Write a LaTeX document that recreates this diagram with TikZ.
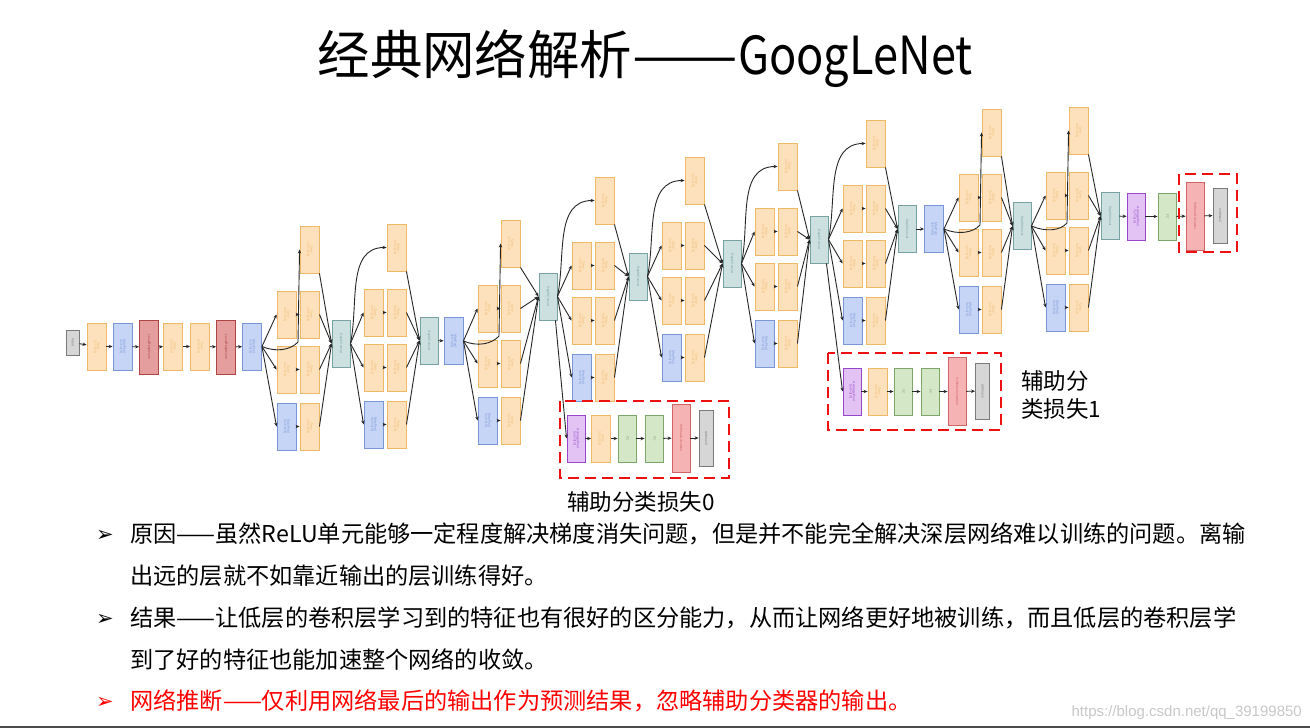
\documentclass[tikz,border=0pt]{standalone}
\usepackage{fontspec}
\usepackage{graphicx}
\setmainfont{Noto Sans CJK SC}
\newfontfamily\boxfont{Liberation Sans}
\newfontfamily\symfont{DejaVu Sans}
\newfontfamily\wmfont{Liberation Sans}
\usetikzlibrary{arrows.meta,calc}
\definecolor{yfill}{HTML}{FCE1BC}
\definecolor{ydraw}{HTML}{EFB866}
\definecolor{bfill}{HTML}{C6D5F5}
\definecolor{bdraw}{HTML}{7896D8}
\definecolor{rfill}{HTML}{E59E9E}
\definecolor{rdraw}{HTML}{B04444}
\definecolor{tfill}{HTML}{CDE0E0}
\definecolor{tdraw}{HTML}{78A2A2}
\definecolor{gfill}{HTML}{D6D6D6}
\definecolor{gdraw}{HTML}{7A7A7A}
\definecolor{pfill}{HTML}{E2C3F3}
\definecolor{pdraw}{HTML}{9847CC}
\definecolor{fcfill}{HTML}{D4E7C6}
\definecolor{fcdraw}{HTML}{7EA66B}
\definecolor{sfill}{HTML}{F5B3B3}
\definecolor{sdraw}{HTML}{D06464}
\definecolor{dred}{HTML}{EE1111}
\definecolor{wmgray}{HTML}{C8C8C8}
\newcommand\vt[1]{\rotatebox{-90}{\renewcommand\arraystretch{0.75}\begin{tabular}{@{}c@{}}#1\end{tabular}}}
\tikzset{
  lay/.style={draw, line width=0.9pt, inner sep=0pt, minimum width=19pt, minimum height=47pt,
    font=\boxfont\fontsize{3.4}{4}\selectfont},
  conv/.style={lay, fill=yfill, draw=ydraw, text=ydraw},
  pool/.style={lay, fill=bfill, draw=bdraw, text=bdraw},
  lrn/.style={lay, fill=rfill, draw=rdraw, text=rdraw, minimum height=54pt},
  dcat/.style={lay, fill=tfill, draw=tdraw, text=tdraw, minimum width=18pt},
  grey/.style={lay, fill=gfill, draw=gdraw, text=gdraw, minimum width=14pt},
  avgp/.style={lay, fill=pfill, draw=pdraw, text=pdraw, minimum width=18pt},
  fcl/.style={lay, fill=fcfill, draw=fcdraw, text=fcdraw, minimum width=18pt},
  smact/.style={lay, fill=sfill, draw=sdraw, text=sdraw, minimum width=18pt, minimum height=68pt},
  arr/.style={-{Stealth[length=4pt,width=3.4pt]}, line width=0.9pt, draw=black!85},
  dbox/.style={draw=dred, line width=2.6pt, dash pattern=on 11pt off 6pt},
  body/.style={font=\fontsize{23.2}{26}\selectfont, anchor=base west, inner sep=0pt},
  lab/.style={font=\fontsize{22.5}{26}\selectfont, anchor=base west, inner sep=0pt},
  bul/.style={font=\symfont\fontsize{21}{24}\selectfont, anchor=base west, inner sep=0pt},
}
% #1 name, #2 x0, #3 y0, #4 dc left, #5 dc center y, #6 input node, #7 branch style (h = hook, otherwise arc)
\newcommand\incep[7]{%
  \pgfmathsetmacro\xa{#2+9.5}\pgfmathsetmacro\xb{#2+32.5}%
  \pgfmathsetmacro\yt{#3-65+23.5}\pgfmathsetmacro\ya{#3+23.5}%
  \pgfmathsetmacro\yc{#3+78.5}\pgfmathsetmacro\yd{#3+135.5}%
  \pgfmathsetmacro\xdc{#4+9}%
  \node[conv] (#1t) at (\xb,\yt) {\vt{Conv\\1x1+1(S)}};
  \node[conv] (#1a1) at (\xa,\ya) {\vt{Conv\\1x1+1(S)}};
  \node[conv] (#1a2) at (\xb,\ya) {\vt{Conv\\3x3+1(S)}};
  \node[conv] (#1b1) at (\xa,\yc) {\vt{Conv\\1x1+1(S)}};
  \node[conv] (#1b2) at (\xb,\yc) {\vt{Conv\\5x5+1(S)}};
  \node[pool] (#1c1) at (\xa,\yd) {\vt{MaxPool\\3x3+1(S)}};
  \node[conv] (#1c2) at (\xb,\yd) {\vt{Conv\\1x1+1(S)}};
  \node[dcat] (#1dc) at (\xdc,#5) {\vt{DepthConcat}};
  \draw[arr] (#6.east) -- (#1a1.west);
  \draw[arr] (#6.east) -- (#1b1.west);
  \draw[arr] (#6.east) -- (#1c1.west);
  \draw[arr] (#1a1.east) -- (#1a2.west);
  \draw[arr] (#1b1.east) -- (#1b2.west);
  \draw[arr] (#1c1.east) -- (#1c2.west);
  \draw[arr] (#1a2.east) -- (#1dc.west);
  \draw[arr] (#1b2.east) -- (#1dc.west);
  \draw[arr] (#1c2.east) -- (#1dc.west);
  \draw[arr] (#1t.south east) -- (#1dc.west);
  \ifx#7h
    \draw[arr] (#6.east) .. controls +(14,6) and +(-7,8) .. (#2+21,#3+51) -- (#1t.west);
  \else
    \draw[arr] (#6.east) to[out=78,in=180] (#1t.west);
  \fi
}
\begin{document}
\begin{tikzpicture}[x=1pt,y=-1pt]
\useasboundingbox (0,0) rectangle (1310,728);
\fill[white] (0,0) rectangle (1310,728);

% title
\node[font=\fontsize{52.5}{56}\selectfont, anchor=base, inner sep=0pt] (title) at (645,74)
  {经典网络解析\scalebox{1.2}[1]{——}\scalebox{0.86}[1]{GoogLeNet}};

% stem
\node[grey, minimum width=13pt, minimum height=25pt] (inp) at (72.5,342.5) {\vt{Input}};
\node[conv] (c1) at (96.5,346.5) {\vt{Conv\\7x7+2(S)}};
\node[pool] (m1) at (122.5,346.5) {\vt{MaxPool\\3x3+2(S)}};
\node[lrn] (l1) at (149,347) {\vt{LocalRespNorm}};
\node[conv] (c2) at (173,346.5) {\vt{Conv\\1x1+1(V)}};
\node[conv] (c3) at (200,346.5) {\vt{Conv\\3x3+1(S)}};
\node[lrn] (l2) at (226,347) {\vt{LocalRespNorm}};
\node[pool] (m2) at (252,346.5) {\vt{MaxPool\\3x3+2(S)}};
\draw[arr] (inp) -- (c1);
\draw[arr] (c1) -- (m1);
\draw[arr] (m1) -- (l1);
\draw[arr] (l1) -- (c2);
\draw[arr] (c2) -- (c3);
\draw[arr] (c3) -- (l2);
\draw[arr] (l2) -- (m2);

\incep{3a}{277}{291}{332}{343.5}{m2}{h}
\incep{3b}{364}{289}{420}{340.5}{3adc}{a}
\node[pool] (m3) at (453.5,341) {\vt{MaxPool\\3x3+2(S)}};
\draw[arr] (3bdc) -- (m3);
\incep{4a}{478}{285}{539}{296.5}{m3}{h}
\incep{4b}{572}{242}{629}{276.5}{4adc}{a}
\incep{4c}{662}{222}{723}{263.5}{4bdc}{a}
\incep{4d}{755}{208}{810}{239.5}{4cdc}{a}
\incep{4e}{843}{185}{898}{229}{4ddc}{a}
\node[pool] (m4) at (934,229) {\vt{MaxPool\\3x3+2(S)}};
\draw[arr] (4edc) -- (m4);
\incep{5a}{959}{174}{1013}{226}{m4}{h}
\incep{5b}{1046}{172}{1101}{216}{5adc}{h}

% head
\node[avgp] (av2) at (1136,216.5) {\vt{AveragePool\\7x7+1(V)}};
\node[fcl] (fc2) at (1167,216.5) {\vt{FC}};
\node[smact] (sa2) at (1195,216) {\vt{SoftmaxActivation}};
\node[grey, minimum height=55pt] (o2) at (1220,215.5) {\vt{softmax2}};
\draw[arr] (5bdc) -- (av2);
\draw[arr] (av2) -- (fc2);
\draw[arr] (fc2) -- (sa2);
\draw[arr] (sa2) -- (o2);

% aux 0
\node[avgp] (av0) at (576,438.5) {\vt{AveragePool\\5x5+3(V)}};
\node[conv] (cv0) at (601,438.5) {\vt{Conv\\1x1+1(S)}};
\node[fcl] (fa0) at (627,438.5) {\vt{FC}};
\node[fcl] (fb0) at (654,438.5) {\vt{FC}};
\node[smact] (sa0) at (681,438) {\vt{SoftmaxActivation}};
\node[grey, minimum height=56pt] (o0) at (706,438) {\vt{softmax0}};
\draw[arr] ($(4adc.south east)+(-2,0)$) -- (av0.west);
\draw[arr] (av0) -- (cv0);
\draw[arr] (cv0) -- (fa0);
\draw[arr] (fa0) -- (fb0);
\draw[arr] (fb0) -- (sa0);
\draw[arr] (sa0) -- (o0);

% aux 1
\node[avgp] (av1) at (852,391.5) {\vt{AveragePool\\5x5+3(V)}};
\node[conv] (cv1) at (877.5,391.5) {\vt{Conv\\1x1+1(S)}};
\node[fcl] (fa1) at (903,391.5) {\vt{FC}};
\node[fcl] (fb1) at (930,391.5) {\vt{FC}};
\node[smact] (sa1) at (957,391.5) {\vt{SoftmaxActivation}};
\node[grey, minimum height=56pt] (o1) at (982.5,391) {\vt{softmax1}};
\draw[arr] ($(4ddc.south east)+(-2,0)$) -- (av1.west);
\draw[arr] (av1) -- (cv1);
\draw[arr] (cv1) -- (fa1);
\draw[arr] (fa1) -- (fb1);
\draw[arr] (fb1) -- (sa1);
\draw[arr] (sa1) -- (o1);

% dashed boxes
\draw[dbox] (560,401) rectangle (729,478);
\draw[dbox] (828,353) rectangle (1001,430);
\draw[dbox] (1179,174) rectangle (1237,252);

% labels
\node[font=\fontsize{22.5}{26}\selectfont, anchor=base, inner sep=0pt] (lab0) at (641,510) {辅助分类损失0};
\node[lab] (lab1a) at (1021,389) {辅助分};
\node[lab] (lab1b) at (1021,417) {类损失1};

% bullets
\node[bul] (b1) at (96,541) {➢};
\node[body] (t1) at (130,542) {原因——虽然ReLU单元能够一定程度解决梯度消失问题，但是并不能完全解决深层网络难以训练的问题。离输};
\node[body] (t2) at (130,584) {出远的层就不如靠近输出的层训练得好。};
\node[bul] (b3) at (96,625) {➢};
\node[body] (t3) at (130,626) {结果——让低层的卷积层学习到的特征也有很好的区分能力，从而让网络更好地被训练，而且低层的卷积层学};
\node[body] (t4) at (130,668) {到了好的特征也能加速整个网络的收敛。};
\node[bul, text=red] (b5) at (96,708) {➢};
\node[body, text=red] (t5) at (130,709) {网络推断——仅利用网络最后的输出作为预测结果，忽略辅助分类器的输出。};

% watermark and bottom rule
\node[font=\wmfont\fontsize{15}{18}\selectfont, text=wmgray, anchor=base east, inner sep=0pt] (wm) at (1302,716) {https://blog.csdn.net/qq\_39199850};
\draw[black!70, line width=1.5pt] (0,727) -- (1310,727);
\end{tikzpicture}
\end{document}
